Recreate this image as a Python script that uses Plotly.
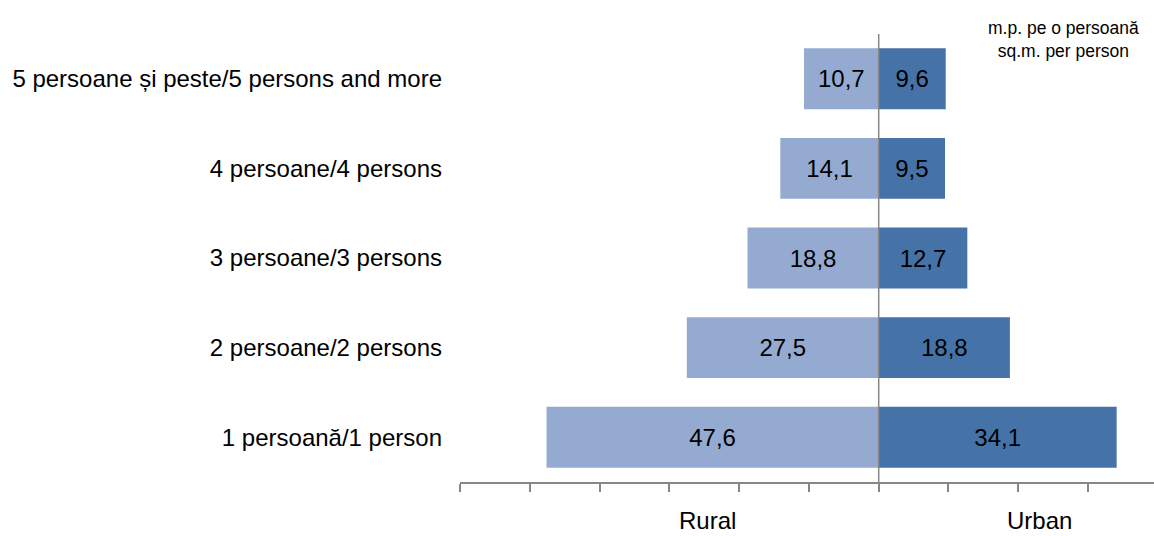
import plotly.graph_objects as go

categories = ["1 persoană/1 person", "2 persoane/2 persons", "3 persoane/3 persons",
              "4 persoane/4 persons", "5 persoane și peste/5 persons and more"]
rural = [47.6, 27.5, 18.8, 14.1, 10.7]
urban = [34.1, 18.8, 12.7, 9.5, 9.6]
side_labels = ["Rural", "Urban"]
header = "m.p. pe o persoană<br>sq.m. per person"

def fmt(v):
    return f"{v:.1f}".replace(".", ",")

RURAL_COLOR = "#95AAD0"
URBAN_COLOR = "#4572A7"
GRID = "#868686"
FONT = "Liberation Sans, Arial, sans-serif"

fig = go.Figure()
fig.add_trace(go.Bar(
    y=categories, x=[-v for v in rural], orientation="h", name="Rural",
    marker=dict(color=RURAL_COLOR, line=dict(width=0)),
    text=[fmt(v) for v in rural], textposition="inside", insidetextanchor="middle",
    textfont=dict(color="black", size=24, family=FONT), width=0.68,
))
fig.add_trace(go.Bar(
    y=categories, x=urban, orientation="h", name="Urban",
    marker=dict(color=URBAN_COLOR, line=dict(width=0)),
    text=[fmt(v) for v in urban], textposition="inside", insidetextanchor="middle",
    textfont=dict(color="black", size=24, family=FONT), width=0.68,
))

fig.add_shape(type="line", xref="x", yref="paper", x0=0, x1=0, y0=0, y1=1,
              line=dict(color=GRID, width=1.5), layer="above")

# Plot area in page pixels: x 460..1154, y 34..482
PW, PH = 694, 448
for lab, xv in zip(side_labels, [-24.6, 23.0]):
    fig.add_annotation(text=lab, x=xv, xref="x", y=(482 - 520) / PH, yref="paper",
                       yanchor="middle", showarrow=False,
                       font=dict(size=24, color="black", family=FONT))
fig.add_annotation(text=header, x=(1063 - 460) / PW, xref="paper",
                   y=(482 - 39) / PH, yref="paper", yanchor="middle", xanchor="center",
                   showarrow=False, font=dict(size=17.5, color="black", family=FONT))

fig.update_layout(
    width=1154, height=536,
    margin=dict(l=460, r=0, t=34, b=54, pad=0),
    barmode="overlay", showlegend=False,
    plot_bgcolor="white", paper_bgcolor="white",
    font=dict(family=FONT, color="black"),
    xaxis=dict(range=[-60, 39.45], dtick=10, tick0=0, showgrid=False, zeroline=False,
               showticklabels=False, ticks="outside", ticklen=8, tickcolor=GRID, tickwidth=1.5,
               showline=True, linecolor=GRID, linewidth=1.5, fixedrange=True),
    yaxis=dict(range=[-0.5, 4.5], showgrid=False, zeroline=False, showline=False, ticks="",
               tickfont=dict(size=24, color="black", family=FONT), ticklabelstandoff=17,
               categoryorder="array", categoryarray=categories, fixedrange=True),
)

fig.write_html("out.html", config={"displayModeBar": False},
               post_script="document.body.style.margin='0px';document.body.style.overflow='hidden';")
